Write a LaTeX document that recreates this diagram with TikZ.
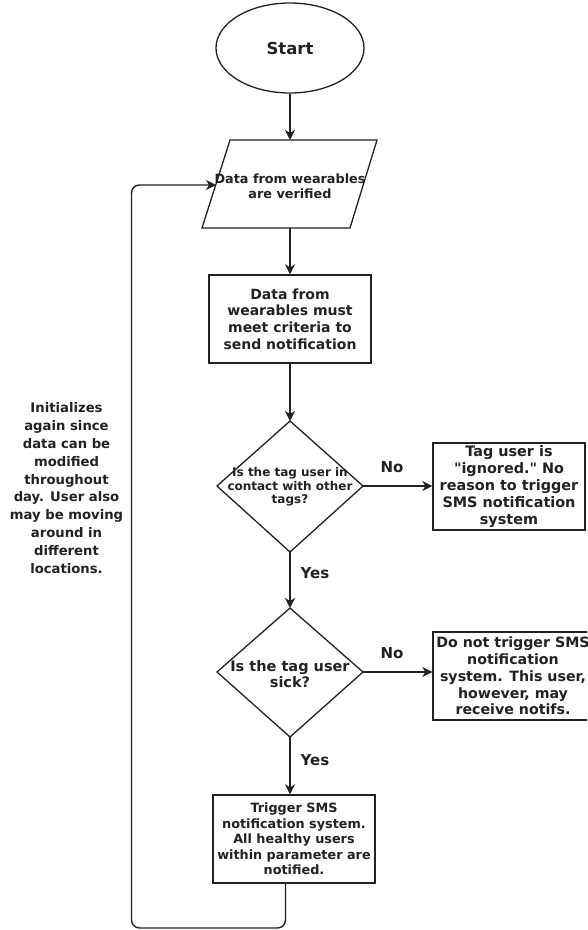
\documentclass[tikz,border=0pt]{standalone}
\usepackage{fontspec}
\setmainfont{DejaVu Sans}[Ligatures=TeXOff]
\usetikzlibrary{arrows.meta,shapes.geometric}
\definecolor{ink}{HTML}{222222}
\begin{document}
\begin{tikzpicture}[x=1pt,y=-1pt,
  shp/.style={line width=1.3pt, draw=ink, fill=white},
  arr/.style={line width=1.8pt, draw=ink, -{Stealth[length=10pt,width=10pt,inset=3pt]}},
  loop/.style={line width=1.4pt, draw=ink, rounded corners=8pt, -{Stealth[length=10pt,width=10pt,inset=3pt]}},
  txt/.style={align=center, text=ink, inner sep=0pt},
  lbl/.style={text=ink, inner sep=0pt, font=\fontsize{15}{18}\selectfont\bfseries}
]
\useasboundingbox[fill=white] (0,0) rectangle (587,930);
\clip (0,0) rectangle (587,930);

% start
\node[shp, ellipse, minimum width=148pt, minimum height=90pt, txt,
  font=\fontsize{16.5}{20}\selectfont\bfseries] (start) at (290,48) {Start};

% parallelogram
\coordinate (pa) at (230,140);
\coordinate (pb) at (377,140);
\coordinate (pc) at (350,228);
\coordinate (pd) at (202,228);
\draw[shp] (pd) -- (pa) -- (pb) -- (pc) -- cycle;
\coordinate (paT) at (290,140);
\coordinate (paB) at (290,228);
\coordinate (paL) at (216,185);
\node[txt, font=\fontsize{12.8}{15}\selectfont\bfseries] (para) at (290,186)
  {Data from wearables\\are verified};

% rectangle 1
\node[shp, txt, minimum width=162pt, minimum height=88pt,
  font=\fontsize{14}{16.7}\selectfont\bfseries] (r1) at (290,319)
  {Data from\\wearables must\\meet criteria to\\send notification};

% diamond 1
\coordinate (d1t) at (290,421);
\coordinate (d1r) at (363,486);
\coordinate (d1b) at (290,552);
\coordinate (d1l) at (217,486);
\draw[shp] (d1t) -- (d1r) -- (d1b) -- (d1l) -- cycle;
\node[txt, font=\fontsize{12}{13.6}\selectfont\bfseries] (d1) at (290,487)
  {Is the tag user in\\contact with other\\tags?};

% box 1
\node[shp, txt, minimum width=152pt, minimum height=87pt,
  font=\fontsize{14.4}{17}\selectfont\bfseries] (b1) at (509,486.5)
  {Tag user is\\"ignored." No\\reason to trigger\\SMS notification\\system};

% diamond 2
\coordinate (d2t) at (290,608);
\coordinate (d2r) at (363,672);
\coordinate (d2b) at (290,737);
\coordinate (d2l) at (217,672);
\draw[shp] (d2t) -- (d2r) -- (d2b) -- (d2l) -- cycle;
\node[txt, font=\fontsize{14.5}{16.7}\selectfont\bfseries] (d2) at (290,674)
  {Is the tag user\\sick?};

% box 2
\node[shp, txt, minimum width=160pt, minimum height=88pt,
  font=\fontsize{14.2}{16.7}\selectfont\bfseries] (b2) at (513,676)
  {Do not trigger SMS\\notification\\system. This user,\\however, may\\receive notifs.};

% box 3
\node[shp, txt, minimum width=162pt, minimum height=88pt,
  font=\fontsize{12.8}{15.5}\selectfont\bfseries] (b3) at (294,839)
  {Trigger SMS\\notification system.\\All healthy users\\within parameter are\\notified.};

% left note
\node[txt, font=\fontsize{13.2}{17.8}\selectfont\bfseries] (note) at (66.5,488)
  {Initializes\\again since\\data can be\\modified\\throughout\\day. User also\\may be moving\\around in\\different\\locations.};

% connectors
\draw[arr] (start.south) -- (paT);
\draw[arr] (paB) -- (r1.north);
\draw[arr] (r1.south) -- (d1t);
\draw[arr] (d1r) -- (d1r -| b1.west);
\draw[arr] (d1b) -- (d2t);
\draw[arr] (d2r) -- (d2r -| b2.west);
\draw[arr] (d2b) -- (d2b |- b3.north);
\draw[loop] ([xshift=-8.5pt]b3.south) |- (131.5,928) |- (paL);

% labels
\node[lbl] (no1) at (392,467) {No};
\node[lbl] (yes1) at (315,573) {Yes};
\node[lbl] (no2) at (392,653) {No};
\node[lbl] (yes2) at (315,760) {Yes};
\end{tikzpicture}
\end{document}
